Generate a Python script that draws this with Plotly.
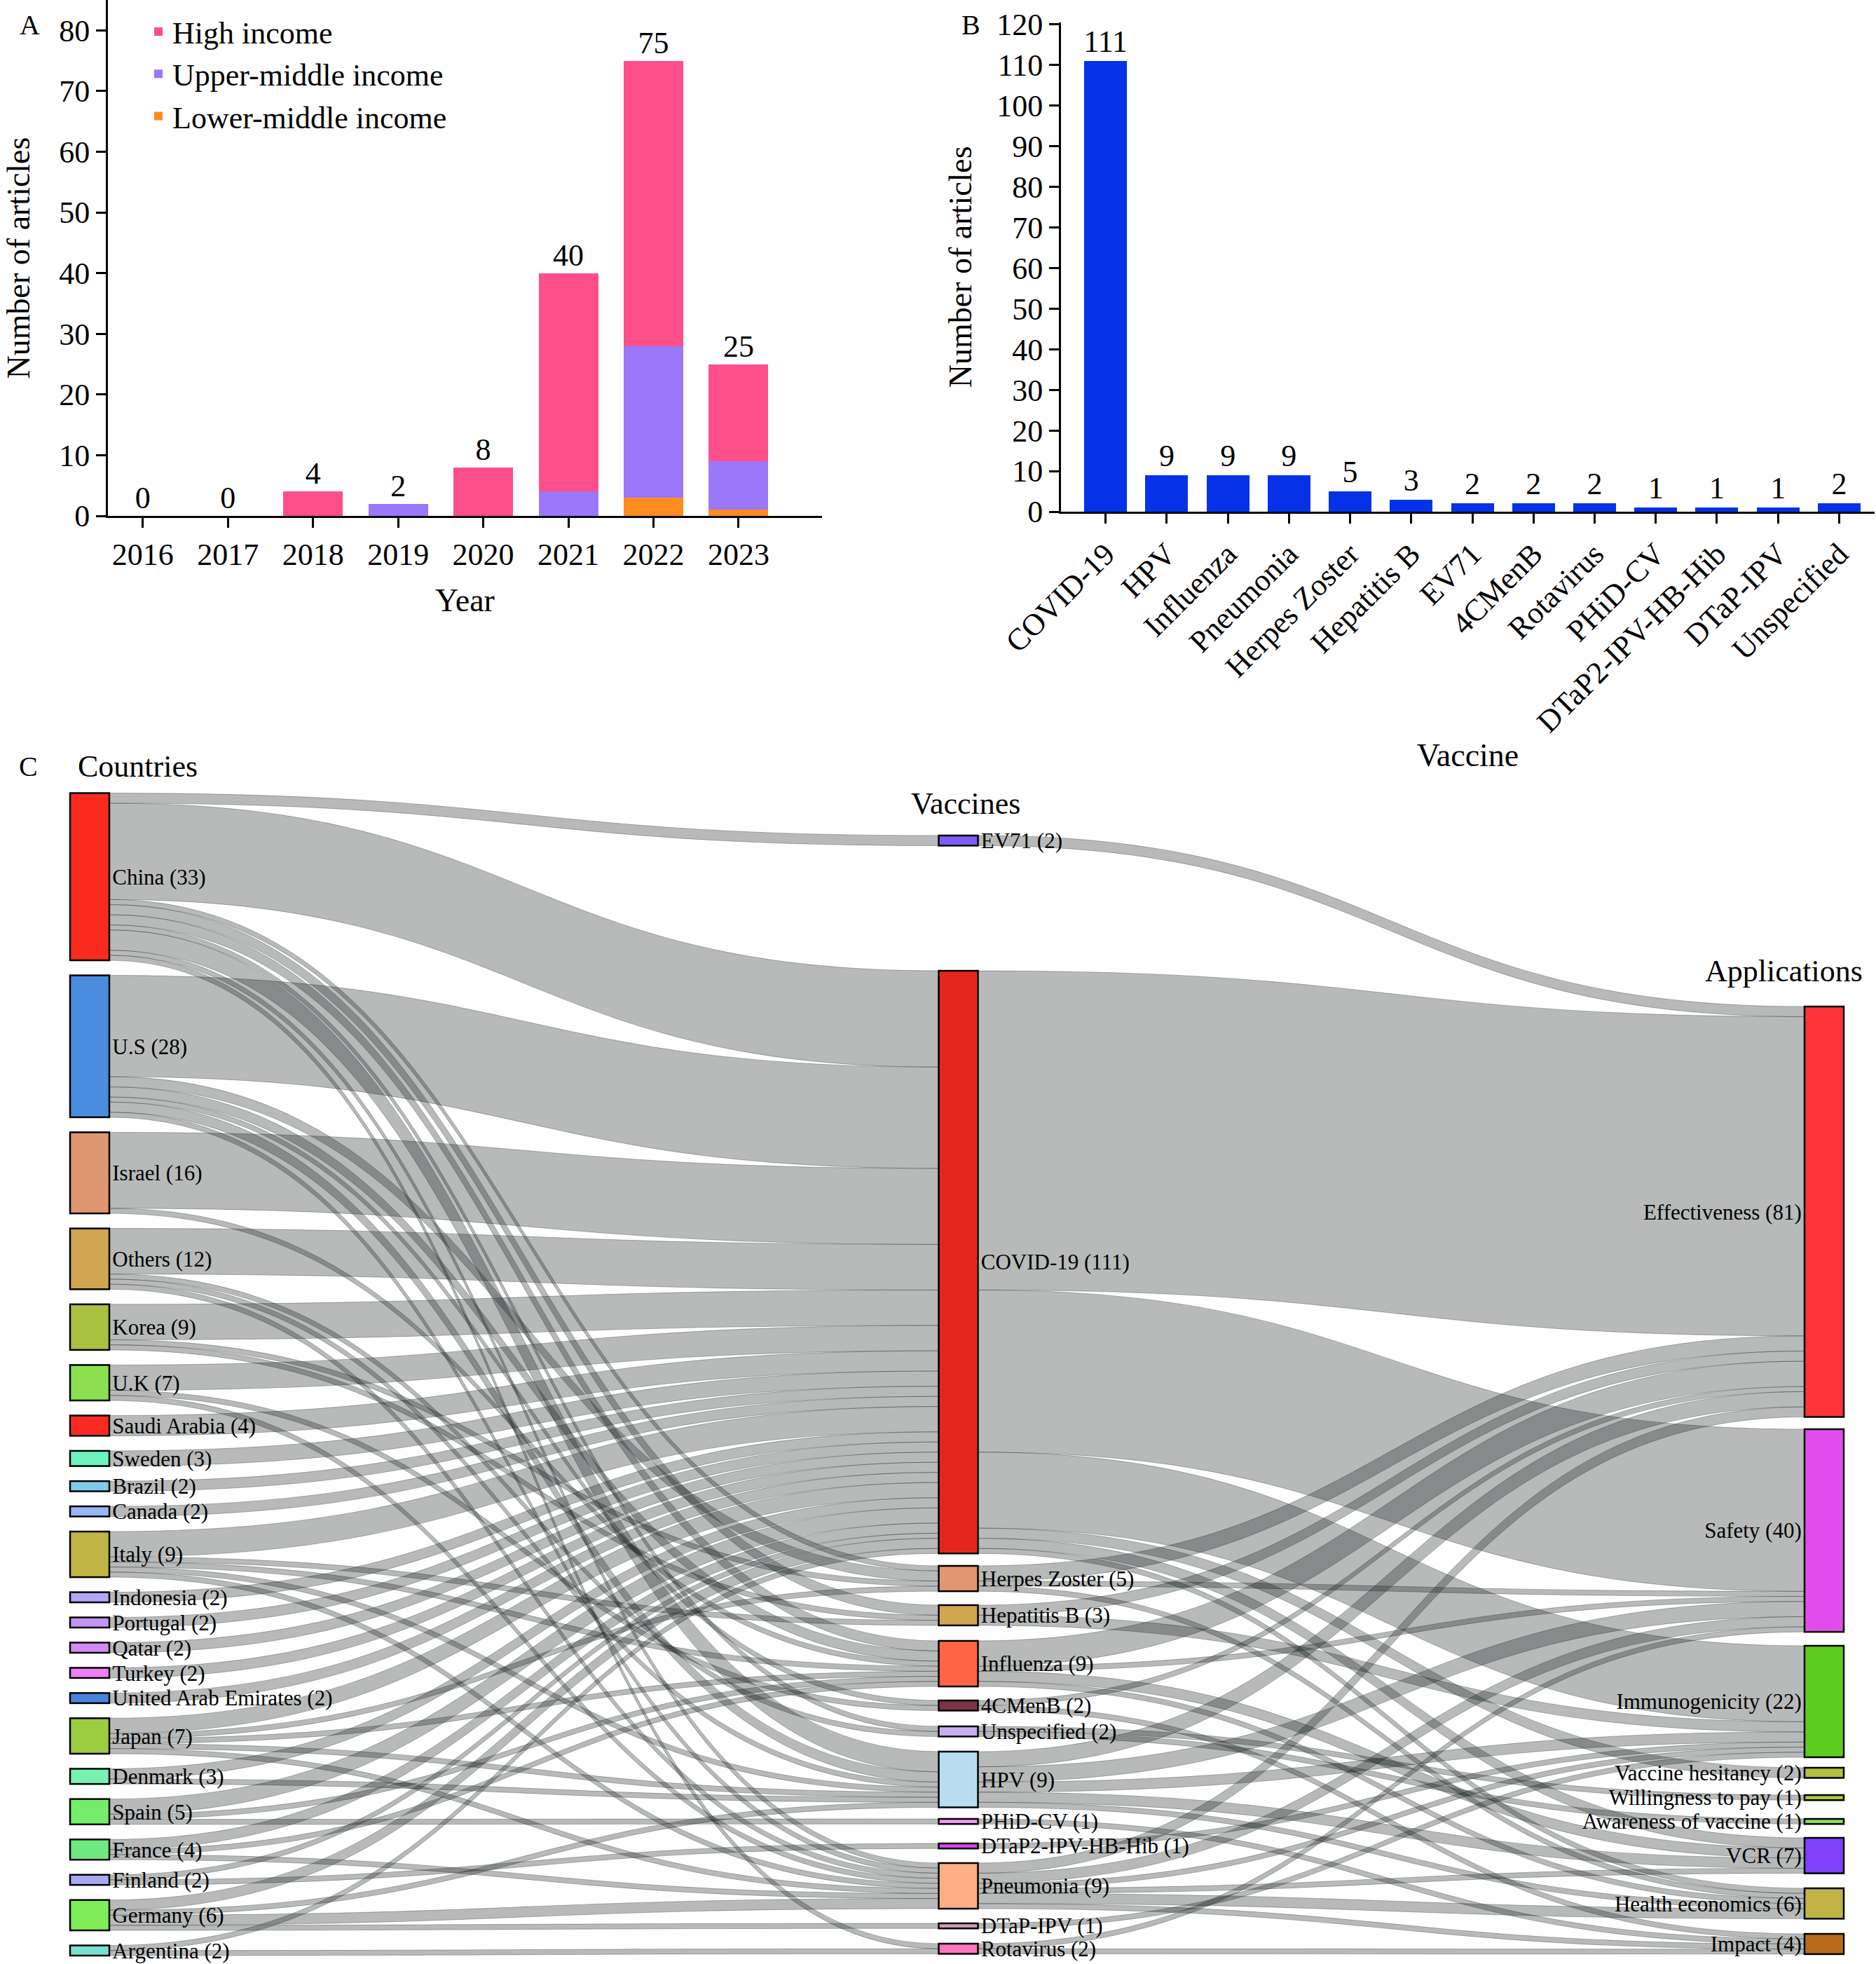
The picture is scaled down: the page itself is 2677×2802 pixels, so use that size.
import plotly.graph_objects as go

# ---------------- DATA ----------------
# Panel A
years = ["2016", "2017", "2018", "2019", "2020", "2021", "2022", "2023"]
high_income = [0, 0, 4, 0, 8, 36, 47, 16]
upper_middle_income = [0, 0, 0, 2, 0, 4, 25, 8]
lower_middle_income = [0, 0, 0, 0, 0, 0, 3, 1]
year_totals = [0, 0, 4, 2, 8, 40, 75, 25]

# Panel B
vaccines_b = ["COVID-19", "HPV", "Influenza", "Pneumonia", "Herpes Zoster", "Hepatitis B",
              "EV71", "4CMenB", "Rotavirus", "PHiD-CV", "DTaP2-IPV-HB-Hib", "DTaP-IPV", "Unspecified"]
vaccine_articles = [111, 9, 9, 9, 5, 3, 2, 2, 2, 1, 1, 1, 2]

# Panel C
countries = ["China", "U.S", "Israel", "Others", "Korea", "U.K", "Saudi Arabia", "Sweden", "Brazil",
             "Canada", "Italy", "Indonesia", "Portugal", "Qatar", "Turkey", "United Arab Emirates",
             "Japan", "Denmark", "Spain", "France", "Finland", "Germany", "Argentina"]
country_counts = [33, 28, 16, 12, 9, 7, 4, 3, 2, 2, 9, 2, 2, 2, 2, 2, 7, 3, 5, 4, 2, 6, 2]

vaccine_nodes = ["EV71", "COVID-19", "Herpes Zoster", "Hepatitis B", "Influenza", "4CMenB",
                 "Unspecified", "HPV", "PHiD-CV", "DTaP2-IPV-HB-Hib", "Pneumonia", "DTaP-IPV", "Rotavirus"]
vaccine_counts = [2, 111, 5, 3, 9, 2, 2, 9, 1, 1, 9, 1, 2]

applications = ["Effectiveness", "Safety", "Immunogenicity", "Vaccine hesitancy", "Willingness to pay",
                "Awareness of vaccine", "VCR", "Health economics", "Impact"]
application_counts = [81, 40, 22, 2, 1, 1, 7, 6, 4]

country_vaccine_links = [
    ("China", "EV71", 2), ("China", "COVID-19", 19), ("China", "Herpes Zoster", 1),
    ("China", "Hepatitis B", 2), ("China", "Influenza", 2), ("China", "HPV", 4),
    ("China", "Pneumonia", 1), ("China", "Rotavirus", 1), ("China", "Unspecified", 1),
    ("U.S", "COVID-19", 20), ("U.S", "Herpes Zoster", 2), ("U.S", "Influenza", 2),
    ("U.S", "4CMenB", 1), ("U.S", "HPV", 2), ("U.S", "Pneumonia", 1),
    ("Israel", "COVID-19", 15), ("Israel", "Influenza", 1),
    ("Others", "COVID-19", 9), ("Others", "HPV", 1), ("Others", "Pneumonia", 1), ("Others", "Unspecified", 1),
    ("Korea", "COVID-19", 7), ("Korea", "Herpes Zoster", 1), ("Korea", "Hepatitis B", 1),
    ("U.K", "COVID-19", 5), ("U.K", "4CMenB", 1), ("U.K", "Pneumonia", 1),
    ("Saudi Arabia", "COVID-19", 4), ("Sweden", "COVID-19", 3), ("Brazil", "COVID-19", 2),
    ("Canada", "COVID-19", 2),
    ("Italy", "COVID-19", 5), ("Italy", "Hepatitis B", 1), ("Italy", "Influenza", 1),
    ("Italy", "HPV", 1), ("Italy", "Pneumonia", 1),
    ("Indonesia", "COVID-19", 2), ("Portugal", "COVID-19", 2), ("Qatar", "COVID-19", 2),
    ("Turkey", "COVID-19", 2), ("United Arab Emirates", "COVID-19", 2),
    ("Japan", "COVID-19", 3), ("Japan", "Herpes Zoster", 1), ("Japan", "Influenza", 1),
    ("Japan", "HPV", 1), ("Japan", "Pneumonia", 1),
    ("Denmark", "COVID-19", 2), ("Denmark", "HPV", 1),
    ("Spain", "COVID-19", 3), ("Spain", "Influenza", 1), ("Spain", "PHiD-CV", 1),
    ("France", "COVID-19", 2), ("France", "Influenza", 1), ("France", "Pneumonia", 1),
    ("Finland", "COVID-19", 1), ("Finland", "DTaP2-IPV-HB-Hib", 1),
    ("Germany", "COVID-19", 2), ("Germany", "HPV", 1), ("Germany", "Pneumonia", 2), ("Germany", "DTaP-IPV", 1),
    ("Argentina", "COVID-19", 1), ("Argentina", "Rotavirus", 1),
]

vaccine_application_links = [
    ("EV71", "Effectiveness", 2),
    ("COVID-19", "Effectiveness", 63), ("COVID-19", "Safety", 32), ("COVID-19", "Immunogenicity", 15),
    ("COVID-19", "Vaccine hesitancy", 2), ("COVID-19", "VCR", 2), ("COVID-19", "Health economics", 1),
    ("Herpes Zoster", "Effectiveness", 3), ("Herpes Zoster", "Safety", 1), ("Herpes Zoster", "Health economics", 1),
    ("Hepatitis B", "Effectiveness", 2), ("Hepatitis B", "Immunogenicity", 2),
    ("Influenza", "Effectiveness", 5), ("Influenza", "Safety", 1), ("Influenza", "VCR", 2),
    ("Influenza", "Health economics", 1),
    ("4CMenB", "Effectiveness", 1), ("4CMenB", "Impact", 1),
    ("Unspecified", "Willingness to pay", 1), ("Unspecified", "Awareness of vaccine", 1),
    ("HPV", "Effectiveness", 3), ("HPV", "Safety", 3), ("HPV", "Immunogenicity", 2), ("HPV", "VCR", 2),
    ("HPV", "Health economics", 1),
    ("PHiD-CV", "Impact", 1),
    ("DTaP2-IPV-HB-Hib", "Immunogenicity", 1),
    ("Pneumonia", "Effectiveness", 2), ("Pneumonia", "Safety", 2), ("Pneumonia", "Immunogenicity", 1),
    ("Pneumonia", "VCR", 1), ("Pneumonia", "Health economics", 2), ("Pneumonia", "Impact", 1),
    ("DTaP-IPV", "Immunogenicity", 1),
    ("Rotavirus", "Safety", 1), ("Rotavirus", "Impact", 1),
]

# ---------------- STYLE / LAYOUT ----------------
W, H = 2677, 2802
FONT = "Liberation Serif"
TICK = 44

country_colors = ["#FA2A1F", "#4A8CDE", "#DE9670", "#D0A550", "#A9C040", "#8CE04F", "#F82A22", "#6EF2BF",
                  "#80CCE8", "#97B8F5", "#BFB443", "#B5A5F5", "#C195F5", "#D28BF0", "#EC80F2", "#4A84DA",
                  "#9CCC40", "#78F2B0", "#74EE6A", "#6EEA80", "#A8A8F2", "#7EEC56", "#78E0D0"]
vaccine_colors = ["#7B5CF5", "#E5261F", "#E09670", "#D0A550", "#FF6542", "#7A3245", "#C8B0F0",
                  "#B8DDF0", "#F59AF0", "#D246F0", "#FFAE85", "#D59AB8", "#FF78BE"]
application_colors = ["#FF333A", "#E24CEC", "#5CCE1E", "#B3BF40", "#A8CC38", "#8CE04F",
                      "#8040FA", "#BFB443", "#B86B18"]

# sankey geometry (pixels)
SK_TOP, SK_BOTTOM = 1131.5, 2790.0
SK_H = SK_BOTTOM - SK_TOP
PAD = 21.5
THICK = 56
col_x_px = [128, 1367.5, 2603]
vaccine_top_px = [60.5, 253.5, 1102.5, 1158.5, 1209.5, 1294.5, 1331.5, 1367.5, 1463.5, 1498.5, 1526.5, 1612.5, 1641.5]
application_top_px = [304.5, 907.5, 1216.5, 1390.5, 1429.5, 1463.5, 1490.5, 1562.5, 1627.5]


def darken(hexc, f=0.45):
    r, g, b = int(hexc[1:3], 16), int(hexc[3:5], 16), int(hexc[5:7], 16)
    return f"rgb({int(r*f)},{int(g*f)},{int(b*f)})"


all_nodes = countries + vaccine_nodes + applications
idx = {n: i for i, n in enumerate(all_nodes)}
node_labels = ([f"{n} ({c})" for n, c in zip(countries, country_counts)]
               + [f"{n} ({c})" for n, c in zip(vaccine_nodes, vaccine_counts)]
               + [f"{n} ({c})" for n, c in zip(applications, application_counts)])
node_colors = country_colors + vaccine_colors + application_colors

links = country_vaccine_links + vaccine_application_links
src = [idx[a] for a, b, v in links]
tgt = [idx[b] for a, b, v in links]
val = [v for a, b, v in links]

# node flow values (as the library computes them)
flow_out = {n: 0 for n in all_nodes}
flow_in = {n: 0 for n in all_nodes}
for a, b, v in links:
    flow_out[a] += v
    flow_in[b] += v
node_val = {n: max(flow_out[n], flow_in[n]) for n in all_nodes}
ky = (SK_H - (len(countries) - 1) * PAD) / sum(node_val[n] for n in countries)

node_x, node_y = [], []
acc = 0.0
for n in countries:
    h = node_val[n] * ky
    node_x.append(col_x_px[0] / W)
    node_y.append((acc + h / 2) / SK_H)
    acc += h + PAD
for n, t in zip(vaccine_nodes, vaccine_top_px):
    node_x.append(col_x_px[1] / W)
    node_y.append((t + node_val[n] * ky / 2) / SK_H)
for n, t in zip(applications, application_top_px):
    node_x.append(col_x_px[2] / W)
    node_y.append((t + node_val[n] * ky / 2) / SK_H)

fig = go.Figure()

# Panel A
for name, vals, col in [("Lower-middle income", lower_middle_income, "#FF8C1F"),
                        ("Upper-middle income", upper_middle_income, "#9B77FA"),
                        ("High income", high_income, "#FF4F8B")]:
    fig.add_trace(go.Bar(x=years, y=vals, name=name, marker=dict(color=col, line=dict(width=0)),
                         xaxis="x", yaxis="y", hoverinfo="skip"))
fig.add_trace(go.Scatter(x=years, y=year_totals, text=[str(v) for v in year_totals], mode="text",
                         textposition="top center", textfont=dict(family=FONT, size=TICK, color="black"),
                         showlegend=False, cliponaxis=False, xaxis="x", yaxis="y", hoverinfo="skip"))

# Panel B
fig.add_trace(go.Bar(x=vaccines_b, y=vaccine_articles, text=[str(v) for v in vaccine_articles],
                     textposition="outside", constraintext="none", cliponaxis=False,
                     textfont=dict(family=FONT, size=TICK, color="black"),
                     marker=dict(color="#0532E8", line=dict(width=0)), showlegend=False,
                     xaxis="x2", yaxis="y2", hoverinfo="skip"))

# Panel C
fig.add_trace(go.Sankey(
    domain=dict(x=[0, 1], y=[1 - SK_BOTTOM / H, 1 - SK_TOP / H]),
    arrangement="fixed",
    node=dict(label=node_labels, color=node_colors, line=dict(color=[darken(c) for c in node_colors], width=2.5),
              thickness=THICK, pad=PAD, x=node_x, y=node_y, hoverinfo="none"),
    link=dict(source=src, target=tgt, value=val, color="rgba(20,26,26,0.3)",
              line=dict(color="rgba(20,26,26,0.3)", width=1), hoverinfo="none"),
    textfont=dict(family=FONT, size=31, color="black", shadow="none"),
))

axis_common = dict(showline=True, linecolor="black", linewidth=3, ticks="outside", ticklen=14, tickwidth=3,
                   tickcolor="black", tickfont=dict(family=FONT, size=TICK, color="black"),
                   showgrid=False, zeroline=False, fixedrange=True, automargin=False)

fig.update_layout(
    width=W, height=H, margin=dict(l=0, r=0, t=0, b=0, autoexpand=False),
    paper_bgcolor="white", plot_bgcolor="white",
    barmode="stack", bargap=0.3,
    font=dict(family=FONT, color="black"),
    showlegend=True,
    legend=dict(x=206 / W, y=1 - 10 / H, xanchor="left", yanchor="top", traceorder="reversed",
                font=dict(family=FONT, size=TICK, color="black"), bgcolor="rgba(0,0,0,0)", itemwidth=30),
    xaxis=dict(domain=[154 / W, 1173 / W], type="category", range=[-0.41, 7.98], anchor="y",
               title=dict(text="Year", font=dict(family=FONT, size=46), standoff=26), **axis_common),
    yaxis=dict(domain=[1 - 736 / H, 1], range=[0, 85], tick0=0, dtick=10, anchor="x",
               title=dict(text="Number of articles", font=dict(family=FONT, size=46), standoff=28), **axis_common),
    xaxis2=dict(domain=[1514 / W, 2675 / W], type="category", range=[-0.73, 12.58], anchor="y2", tickangle=-45,
                title=dict(text="Vaccine", font=dict(family=FONT, size=46), standoff=8), **axis_common),
    yaxis2=dict(domain=[1 - 730 / H, 1 - 31.5 / H], range=[0, 120.6], tick0=0, dtick=10, anchor="x2",
                title=dict(text="Number of articles", font=dict(family=FONT, size=46), standoff=22), **axis_common),
)

ann = []
for txt, x, y, size, xa in [("A", 42, 36, 40, "center"), ("B", 1386, 35, 40, "center"),
                            ("C", 40, 1093, 40, "center"), ("Countries", 109, 1093, 44, "left"),
                            ("Vaccines", 1378, 1146, 44, "center"), ("Applications", 2545, 1385, 44, "center")]:
    ann.append(dict(text=txt, x=x / W, y=1 - y / H, xref="paper", yref="paper", xanchor=xa, yanchor="middle",
                    showarrow=False, font=dict(family=FONT, size=size, color="black")))
fig.update_layout(annotations=ann)

fig.write_html("out.html", config={"displayModeBar": False},
               post_script="document.body.style.margin='0';document.body.style.overflow='hidden';")
